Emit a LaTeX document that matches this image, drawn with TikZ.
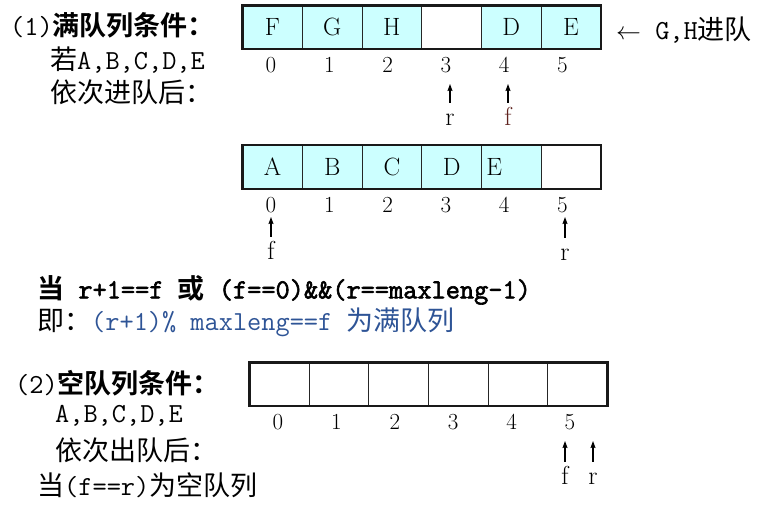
\documentclass[tikz,border=0pt]{standalone}
\usepackage{fontspec}
\usetikzlibrary{positioning, arrows.meta}
\newfontfamily\zhfont{Noto Sans CJK SC}[BoldFont={Noto Sans CJK SC Bold}]
\newfontfamily\codefont{Latin Modern Mono}[Scale=1.02, AutoFakeBold=2.2]
\definecolor{cellcol}{RGB}{204,255,255}
\definecolor{notecol}{RGB}{46,84,150}
\definecolor{frontcol}{RGB}{95,35,30}

\begin{document}
\begin{tikzpicture}[
			x=1pt, y=-1pt,
			node distance=59.7pt,
			on grid,
			cell/.style={
				draw=black!85,
				line width=1pt,
				fill=cellcol,
				minimum width=59.7pt,
				minimum height=43.7pt,
				inner sep=0pt,
				outer sep=0pt,
				font=\fontsize{25}{28}\selectfont
			},
			blank/.style={cell, fill=white},
			frame/.style={draw=black!90, line width=2.6pt},
			index/.style={inner sep=0pt, font=\fontsize{23}{26}\selectfont},
			ptr/.style={
				inner sep=0pt,
				text height=11pt,
				text depth=0pt,
				font=\fontsize{26}{28}\selectfont
			},
			pointer/.style={
				-{Stealth[length=7pt, width=5pt, inset=1pt]},
				line width=1.1pt,
				shorten <=11.5pt
			},
			say/.style={anchor=west, inner sep=0pt, font=\fontsize{27}{32}\selectfont}
			]
			\useasboundingbox (0,0) rectangle (760,515);
			
			% (1) full queue
			\node[say] (head1) at (10,25) {\codefont(1)\zhfont\bfseries 满队列条件：};
			\node[say] (cond1) at (50,60) {\zhfont 若\codefont A,B,C,D,E};
			\node[say] (cond2) at (50,92) {\zhfont 依次进队后：};
			\node[say] (enq) at (616,30) {$\leftarrow$\codefont\ G,H\zhfont 进队};
			
			% queue after G,H
			\node[cell] (gh0) at (272.5,27.2) {F};
			\node[cell] (gh1) [right=of gh0] {G};
			\node[cell] (gh2) [right=of gh1] {H};
			\node[blank] (gh3) [right=of gh2] {};
			\node[cell] (gh4) [right=of gh3] {D};
			\node[cell] (gh5) [right=of gh4] {E};
			\draw[frame] (gh0.north west) rectangle (gh5.south east);
			
			\node[index] (ghi0) at (271,65) {0};
			\node[index] (ghi1) [right=58.3pt of ghi0] {1};
			\node[index] (ghi2) [right=58.3pt of ghi1] {2};
			\node[index] (ghi3) [right=58.3pt of ghi2] {3};
			\node[index] (ghi4) [right=58.3pt of ghi3] {4};
			\node[index] (ghi5) [right=58.3pt of ghi4] {5};
			
			\node[ptr] (ghr) at (450,120) {r};
			\node[ptr, text=frontcol] (ghf) at (508,120) {f};
			\coordinate (ghrtip) at (450,84);
			\coordinate (ghftip) at (508,84);
			\draw[pointer] (ghr) -- (ghrtip);
			\draw[pointer] (ghf) -- (ghftip);
			
			% queue with A..E
			\node[cell] (ab0) at (272.5,167) {A};
			\node[cell] (ab1) [right=of ab0] {B};
			\node[cell] (ab2) [right=of ab1] {C};
			\node[cell] (ab3) [right=of ab2] {D};
			\node[cell] (ab4) [right=of ab3] {\makebox[50pt][l]{E}};
			\node[blank] (ab5) [right=of ab4] {};
			\draw[frame] (ab0.north west) rectangle (ab5.south east);
			
			\node[index] (abi0) at (271,205) {0};
			\node[index] (abi1) [right=58.3pt of abi0] {1};
			\node[index] (abi2) [right=58.3pt of abi1] {2};
			\node[index] (abi3) [right=58.3pt of abi2] {3};
			\node[index] (abi4) [right=58.3pt of abi3] {4};
			\node[index] (abi5) [right=58.3pt of abi4] {5};
			
			\node[ptr] (abf) at (271,254) {f};
			\node[ptr] (abr) at (565,255) {r};
			\coordinate (abftip) at (271,217);
			\coordinate (abrtip) at (565,217);
			\draw[pointer] (abf) -- (abftip);
			\draw[pointer] (abr) -- (abrtip);
			
			\node[say, font=\fontsize{27}{32}\selectfont\bfseries] (full) at (37,290)
			{\zhfont 当\codefont\ r+1==f \zhfont 或\codefont\ (f==0)\&\&(r==maxleng-1)};
			\node[say] (fullnote) at (37,322)
			{\zhfont 即：\color{notecol}\codefont(r+1)\% maxleng==f \zhfont 为满队列};
			
			% (2) empty queue
			\node[say] (head2) at (15,383) {\codefont(2)\zhfont\bfseries 空队列条件：};
			\node[say] (deq1) at (55,416) {\codefont A,B,C,D,E};
			\node[say] (deq2) at (55,450) {\zhfont 依次出队后：};
			\node[say] (empty) at (37,485) {\zhfont 当\codefont(f==r)\zhfont 为空队列};
			
			\node[blank] (em0) at (279.3,384.2) {};
			\node[blank] (em1) [right=of em0] {};
			\node[blank] (em2) [right=of em1] {};
			\node[blank] (em3) [right=of em2] {};
			\node[blank] (em4) [right=of em3] {};
			\node[blank] (em5) [right=of em4] {};
			\draw[frame] (em0.north west) rectangle (em5.south east);
			
			\node[index] (emi0) at (278,422) {0};
			\node[index] (emi1) [right=58.4pt of emi0] {1};
			\node[index] (emi2) [right=58.4pt of emi1] {2};
			\node[index] (emi3) [right=58.4pt of emi2] {3};
			\node[index] (emi4) [right=58.4pt of emi3] {4};
			\node[index] (emi5) [right=58.4pt of emi4] {5};
			
			\node[ptr] (emf) at (565,479) {f};
			\node[ptr] (emr) at (593,479) {r};
			\coordinate (emftip) at (565,441);
			\coordinate (emrtip) at (593,441);
			\draw[pointer] (emf) -- (emftip);
			\draw[pointer] (emr) -- (emrtip);
		\end{tikzpicture}
\end{document}
